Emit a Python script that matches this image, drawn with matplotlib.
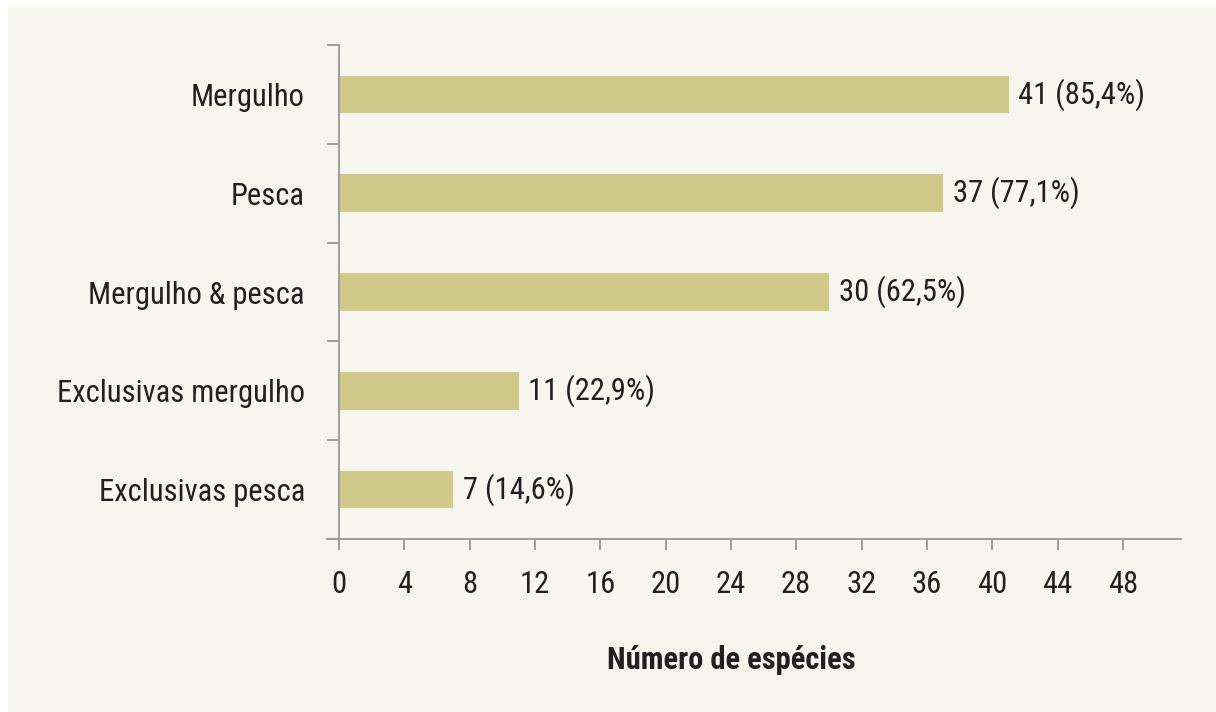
import matplotlib
matplotlib.use("Agg")
import matplotlib.pyplot as plt
from matplotlib.patches import Rectangle

categories = ["Mergulho", "Pesca", "Mergulho & pesca", "Exclusivas mergulho", "Exclusivas pesca"]
values = [41, 37, 30, 11, 7]
value_labels = ["41 (85,4%)", "37 (77,1%)", "30 (62,5%)", "11 (22,9%)", "7 (14,6%)"]
xticks = [0, 4, 8, 12, 16, 20, 24, 28, 32, 36, 40, 44, 48]
xlabel = "Número de espécies"

plt.rcParams['font.family'] = ['Nimbus Sans Narrow', 'Roboto Condensed', 'Archivo Narrow',
                               'IBM Plex Sans Condensed', 'DejaVu Sans']

BG = "#f6f5ee"
BAR = "#d0c98a"
AX = "#9d9d9d"
TXT = "#231f20"
FS = 22

fig = plt.figure(figsize=(12.16, 7.12), dpi=100)
fig.patch.set_facecolor("white")
fig.patches.append(Rectangle((8/1216, 0), 1 - 8/1216, 1 - 6/712, transform=fig.transFigure,
                             facecolor=BG, edgecolor="none", zorder=-10))

ax = fig.add_axes([327/1216, 1 - 539/712, (1181-327)/1216, (539-45)/712])
ax.set_facecolor("none")

y = list(range(len(categories)))
ax.barh(y, values, height=0.38, color=BAR, zorder=2)
for yi, v, lab in zip(y, values, value_labels):
    ax.text(v + 0.6, yi, lab, va="center", ha="left", fontsize=FS, color=TXT)

ax.set_xlim(-0.73, 51.56)
ax.set_ylim(len(categories) - 0.5, -0.5)

for s in ["top", "right"]:
    ax.spines[s].set_visible(False)
ax.spines["left"].set_position(("data", 0))
ax.spines["left"].set_color(AX)
ax.spines["bottom"].set_color(AX)
ax.spines["left"].set_linewidth(1.4)
ax.spines["bottom"].set_linewidth(1.4)

ax.set_xticks(xticks)
ax.set_xticklabels([str(t) for t in xticks])
ax.tick_params(axis="x", length=8, width=1.4, color=AX, pad=14.5, labelsize=FS, labelcolor=TXT)

ax.set_yticks(y)
ax.set_yticklabels(categories)
ax.tick_params(axis="y", which="major", length=0, pad=24.5, labelsize=FS, labelcolor=TXT)
ax.set_yticks([i - 0.5 for i in range(len(categories) + 1)], minor=True)
ax.tick_params(axis="y", which="minor", length=8.6, width=1.4, color=AX)

fig.text(731/1216, 1 - 660/712, xlabel, ha="center", va="center", fontsize=FS,
         fontweight="bold", color=TXT)

fig.savefig("out.png", dpi=100, facecolor=fig.get_facecolor())
